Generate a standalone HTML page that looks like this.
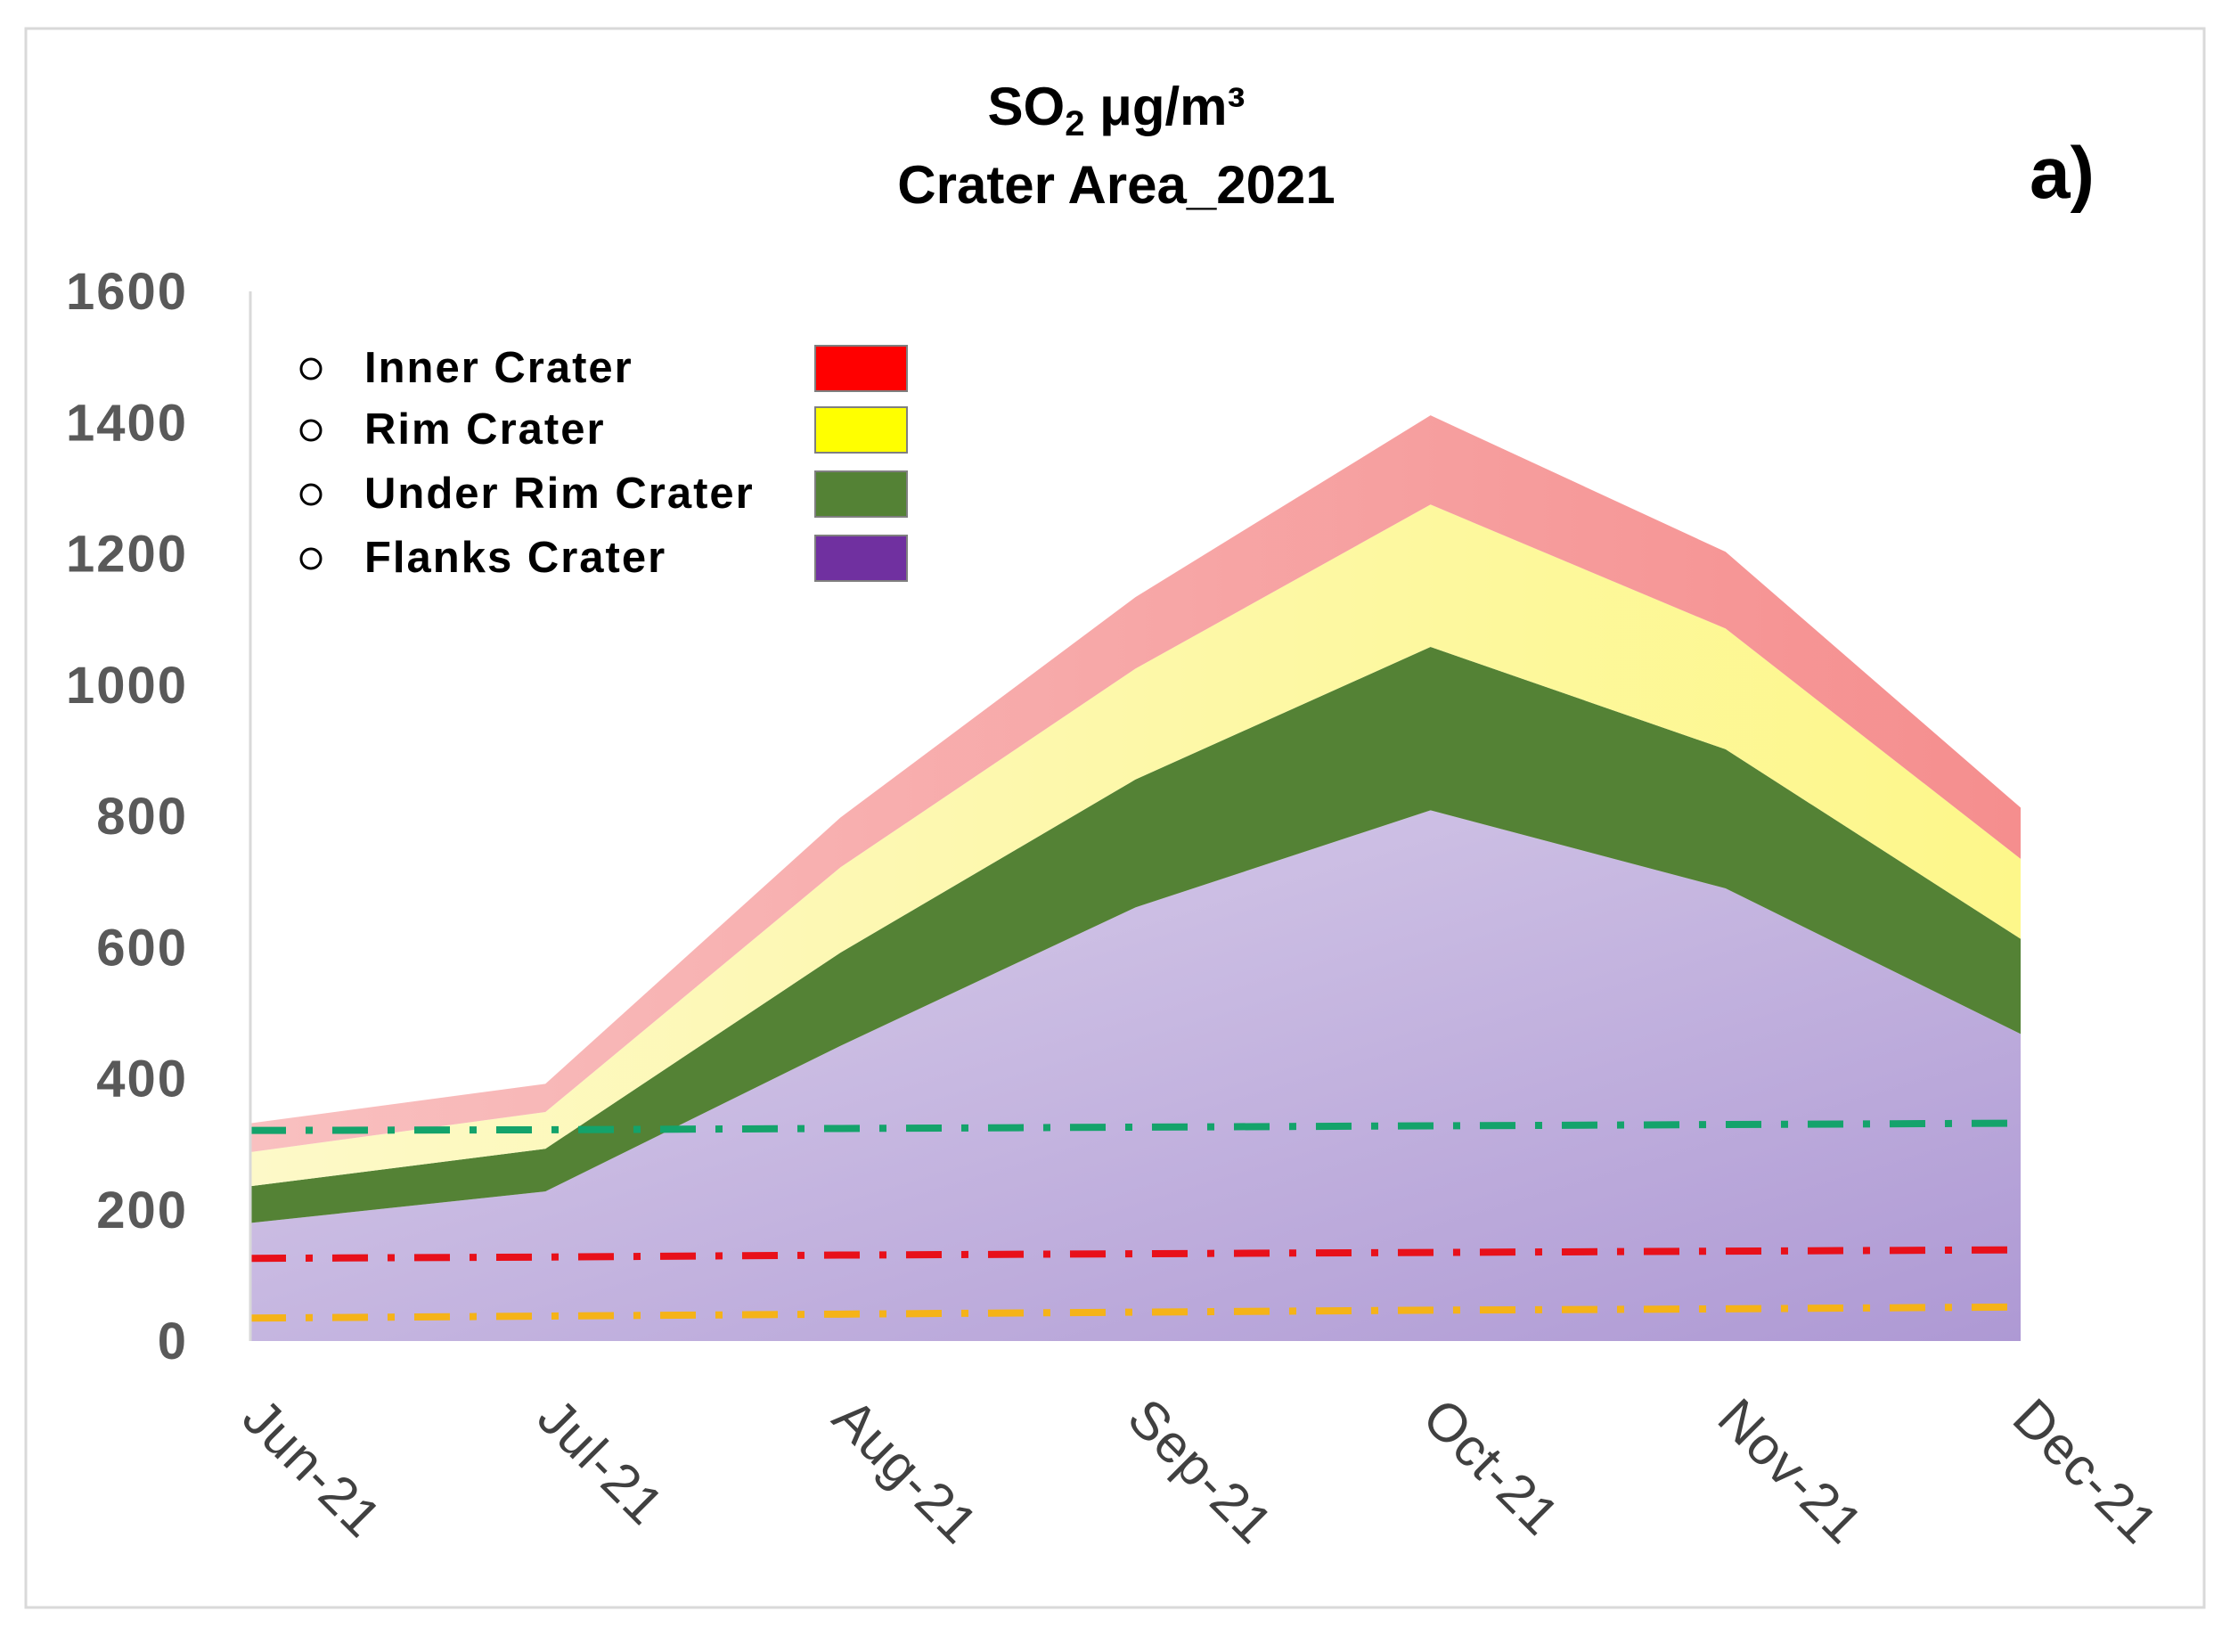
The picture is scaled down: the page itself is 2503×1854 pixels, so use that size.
<!DOCTYPE html>
<html><head><meta charset="utf-8"><style>
html,body{margin:0;padding:0;background:#fff}
svg{display:block;font-family:"Liberation Sans",sans-serif}
</style></head><body>
<svg id="chart" width="2503" height="1854" viewBox="0 0 2503 1854">
<defs>
<linearGradient id="flankGrad" x1="0" y1="0" x2="1" y2="1">
<stop offset="0" stop-color="#dcd2ec"/><stop offset="1" stop-color="#ae99d4"/>
</linearGradient>
<linearGradient id="rimGrad" x1="0" y1="0" x2="1" y2="0">
<stop offset="0" stop-color="#fdf9c8"/><stop offset="1" stop-color="#fdf78a"/>
</linearGradient>
<linearGradient id="innerGrad" x1="0" y1="0" x2="1" y2="0">
<stop offset="0" stop-color="#f9c0c0"/><stop offset="1" stop-color="#f58e8e"/>
</linearGradient>
</defs>
<rect x="29" y="32" width="2445" height="1772" fill="#fff" stroke="#d9d9d9" stroke-width="3"/>
<text x="1253" y="140" text-anchor="middle" font-size="60" font-weight="bold" fill="#000">SO<tspan font-size="40" dy="12">2</tspan><tspan dy="-12"> μg/m³</tspan></text>
<text x="1253" y="228" text-anchor="middle" font-size="60" font-weight="bold" fill="#000">Crater Area_2021</text>
<text x="2278" y="222" font-size="82" font-weight="bold" fill="#000">a)</text>
<g id="plot"></g>
<g id="legend"></g>
</svg>
<script>
const categories = ["Jun-21","Jul-21","Aug-21","Sep-21","Oct-21","Nov-21","Dec-21"];
const flanks = [180,228,450,661,809,690,468];
const underRim = [56,65,142,195,249,212,145];
const rim = [52,56,130,169,217,184,122];
const inner = [44,43,76,109,136,117,78];
const greenLimit = [321,322,324,326,328,330,332];
const redLimit = [126,128,131,133,135,137,139];
const orangeLimit = [35,38,41,44,47,49,52];
const yTicks = [0,200,400,600,800,1000,1200,1400,1600];

const NS="http://www.w3.org/2000/svg";
const X0=281, X1=2268, Y0=1505, Y1=327, YMAX=1600;
const xs=i=>X0+(X1-X0)*i/(categories.length-1);
const ys=v=>Y0-(Y0-Y1)*v/YMAX;
const plot=document.getElementById('plot');
function mk(tag,attrs,parent){const e=document.createElementNS(NS,tag);for(const k in attrs)e.setAttribute(k,attrs[k]);(parent||plot).appendChild(e);return e;}

const layers=[{d:flanks,fill:"url(#flankGrad)",name:"area-flanks-crater"},{d:underRim,fill:"#548235",name:"area-under-rim-crater"},{d:rim,fill:"url(#rimGrad)",name:"area-rim-crater"},{d:inner,fill:"url(#innerGrad)",name:"area-inner-crater"}];
let base=categories.map(()=>0);
layers.forEach(L=>{
  const top=base.map((b,i)=>b+L.d[i]);
  let pts=top.map((v,i)=>xs(i)+","+ys(v));
  for(let i=categories.length-1;i>=0;i--)pts.push(xs(i)+","+ys(base[i]));
  const p=mk('polygon',{points:pts.join(' '),fill:L.fill});
  
  
  base=top;
});

const limits=[{d:greenLimit,c:"#14a36b",name:"green-limit-line"},{d:redLimit,c:"#e8101a",name:"red-limit-line"},{d:orangeLimit,c:"#f5b318",name:"orange-limit-line"}];
limits.forEach(L=>{
  const pl=mk('polyline',{points:L.d.map((v,i)=>xs(i)+","+ys(v)).join(' '),fill:"none",stroke:L.c,"stroke-width":8,"stroke-dasharray":"40 22 8 22"});
  
  
});

const ax=mk('line',{x1:X0,y1:Y1,x2:X0,y2:Y0,stroke:"#d9d9d9","stroke-width":3});



yTicks.forEach(t=>{
  const e=mk('text',{x:211,y:ys(t)+20,"text-anchor":"end","font-size":58,"font-weight":"bold",fill:"#595959","letter-spacing":"2"});
  e.textContent=t;
  
  
});
categories.forEach((c,i)=>{
  const x=xs(i)-12,y=1595;
  const e=mk('text',{x:x,y:y,"font-size":60,fill:"#404040","letter-spacing":"1",transform:`rotate(45 ${x} ${y})`});
  e.textContent=c;
  
  
});

const legend=document.getElementById('legend');
const entries=[["Inner Crater","#ff0000"],["Rim Crater","#ffff00"],["Under Rim Crater","#548235"],["Flanks Crater","#7030a0"]];
const rowsY=[412,481,553,625];
entries.forEach((en,i)=>{
  const g=mk('g',{},legend);
  
  
  mk('circle',{cx:349,cy:rowsY[i]+2,r:11,fill:"none",stroke:"#000","stroke-width":3},g);
  const t=mk('text',{x:409,y:rowsY[i]+17,"font-size":49,"font-weight":"bold",fill:"#000","letter-spacing":"2"},g);
  t.textContent=en[0];
  mk('rect',{x:915,y:rowsY[i]-24,width:103,height:51,fill:en[1],stroke:"#7f7f7f","stroke-width":2},g);
});
</script>
</body></html>
